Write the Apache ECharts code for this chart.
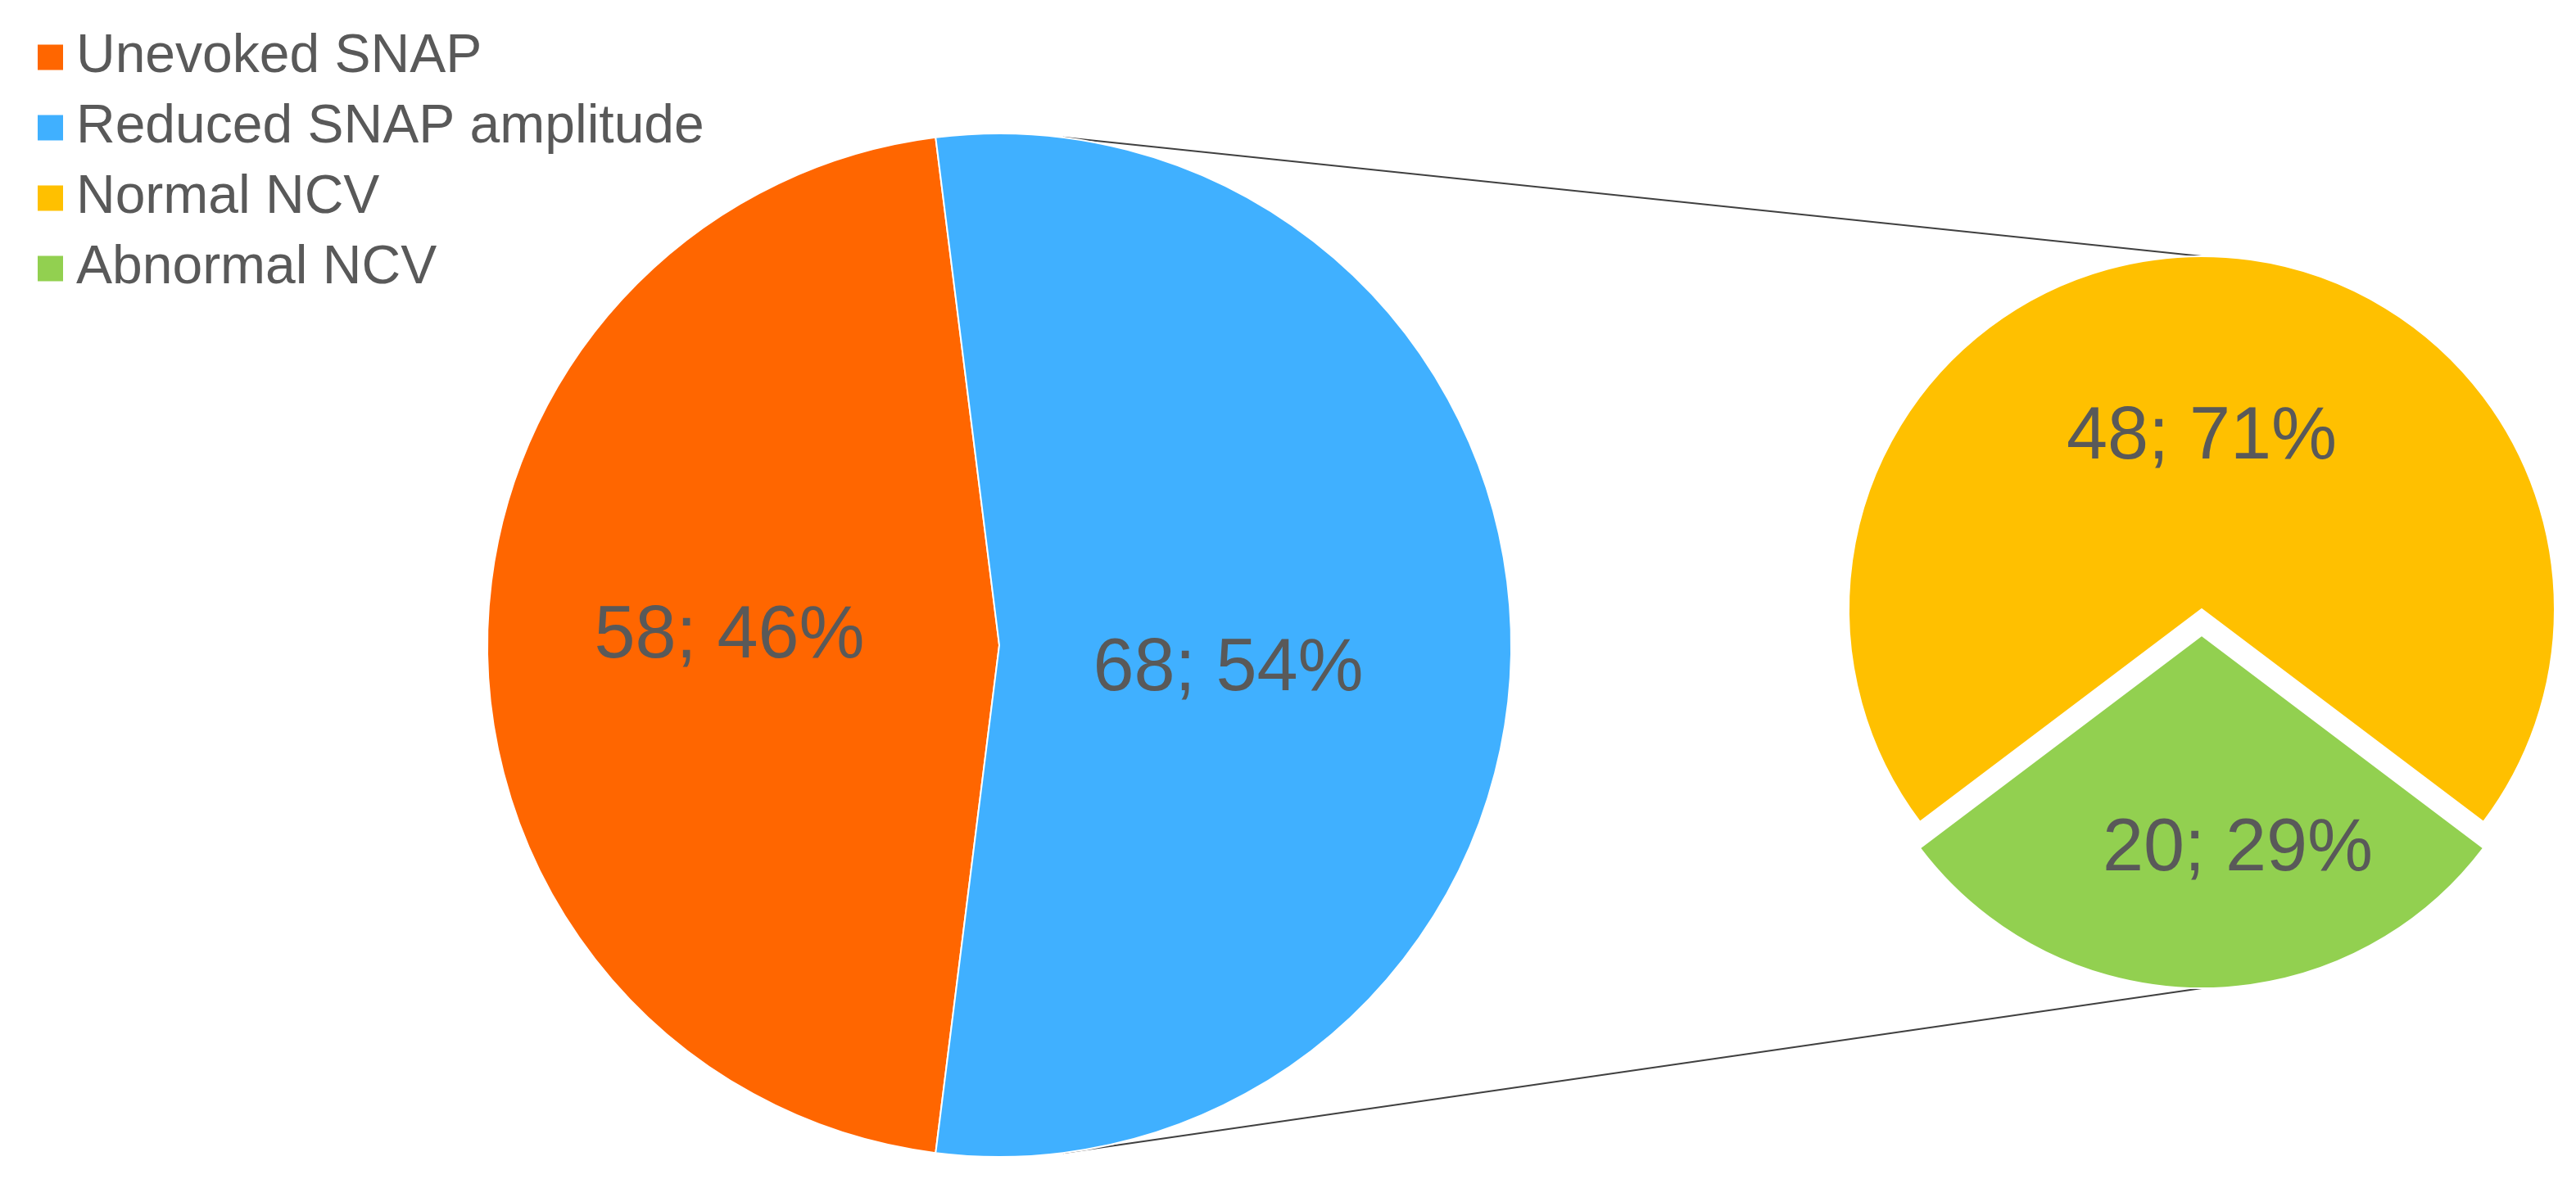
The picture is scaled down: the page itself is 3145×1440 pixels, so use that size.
<!DOCTYPE html>
<html>
<head>
<meta charset="utf-8">
<title>SNAP / NCV</title>
<script src="https://cdn.jsdelivr.net/npm/echarts@6/dist/echarts.min.js"></script>
<style>
  html, body { margin: 0; padding: 0; background: #fff; }
  #chart-pie { width: 3145px; height: 1440px; }
</style>
</head>
<body>
<div id="chart-pie"></div>
<script>
  // main pie
  var mainNames = ['Unevoked SNAP', 'Reduced SNAP amplitude'];
  var mainValues = [58, 68];
  // second pie (breakdown of reduced SNAP amplitude)
  var subNames = ['Normal NCV', 'Abnormal NCV'];
  var subValues = [48, 20];

  var mainColors = ['#FF6600', '#40B0FF'];
  var subColors = ['#FFC000', '#92D050'];
  // small nudges (padding of the text box) so labels sit where excel put them
  var mainPad = [[0, 28, 20, 0], [60, 72, 0, 0]];
  var subPad = [[20, 0, 0, 0], [88, 0, 0, 88]];

  var mainCenter = [1220, 788];
  var mainR = 625;
  var subCenter = [2688, 744];
  var subR = 431;
  var explode = 32;

  var font = 'Liberation Sans, Arial, sans-serif';

  var mainTotal = mainValues[0] + mainValues[1];
  var subTotal = subValues[0] + subValues[1];
  // orange centred on the left, yellow centred on top
  var mainStart = 180 + (mainValues[0] / mainTotal) * 360 / 2;
  var subStart = 90 + (subValues[0] / subTotal) * 360 / 2;

  function labelFor(pad) {
    return {
      rich: {
        v: {padding: pad, fontSize: 90, color: '#595959', fontFamily: font}
      }
    };
  }

  var mainData = [];
  for (var i = 0; i < mainNames.length; i++) {
    mainData.push({name: mainNames[i], value: mainValues[i], itemStyle: {color: mainColors[i]}, label: labelFor(mainPad[i])});
  }
  var subData = [];
  for (var j = 0; j < subNames.length; j++) {
    subData.push({name: subNames[j], value: subValues[j], itemStyle: {color: subColors[j]}, label: labelFor(subPad[j]), selected: j == 1});
  }

  // connector lines: mirror of the slice boundary on the main pie -> top / bottom of the second pie
  var a = (mainStart - 180) * Math.PI / 180;
  var p1 = [mainCenter[0] + mainR * Math.cos(a), mainCenter[1] - mainR * Math.sin(a)];
  var p2 = [mainCenter[0] + mainR * Math.cos(a), mainCenter[1] + mainR * Math.sin(a)];
  var q1 = [subCenter[0], subCenter[1] - subR];
  var q2 = [subCenter[0], subCenter[1] + explode + subR];

  var labelStyle = {
    show: true,
    position: 'inner',
    formatter: function (p) {
      return '{v|' + p.value + '; ' + p.percent + '%}';
    },
    color: '#595959',
    fontSize: 90,
    fontFamily: font
  };

  var chartPie = echarts.init(document.getElementById('chart-pie'));
  var optionPie = {
    animation: false,
    legend: {
      orient: 'vertical',
      left: 39,
      top: 32,
      icon: 'rect',
      itemWidth: 33,
      itemHeight: 33,
      itemGap: 20,
      data: mainNames.concat(subNames),
      textStyle: {
        color: '#595959',
        fontSize: 66,
        lineHeight: 66,
        padding: [0, 0, 0, 10],
        fontFamily: font
      }
    },
    graphic: [
      {type: 'line', shape: {x1: p1[0], y1: p1[1], x2: q1[0], y2: q1[1]}, style: {stroke: '#404040', lineWidth: 2}, z: 0},
      {type: 'line', shape: {x1: p2[0], y1: p2[1], x2: q2[0], y2: q2[1]}, style: {stroke: '#404040', lineWidth: 2}, z: 0}
    ],
    series: [
      {
        name: 'main',
        type: 'pie',
        center: mainCenter,
        radius: [0, mainR],
        startAngle: mainStart,
        clockwise: true,
        percentPrecision: 0,
        avoidLabelOverlap: false,
        itemStyle: {borderColor: '#fff', borderWidth: 2},
        label: labelStyle,
        labelLine: {show: false},
        emphasis: {scale: false},
        data: mainData
      },
      {
        name: 'sub',
        type: 'pie',
        center: subCenter,
        radius: [0, subR],
        startAngle: subStart,
        clockwise: true,
        percentPrecision: 0,
        avoidLabelOverlap: false,
        selectedMode: 'single',
        selectedOffset: explode,
        itemStyle: {borderColor: '#fff', borderWidth: 2},
        label: labelStyle,
        labelLine: {show: false},
        emphasis: {scale: false},
        data: subData
      }
    ]
  };
  chartPie.setOption(optionPie);
</script>
</body>
</html>
